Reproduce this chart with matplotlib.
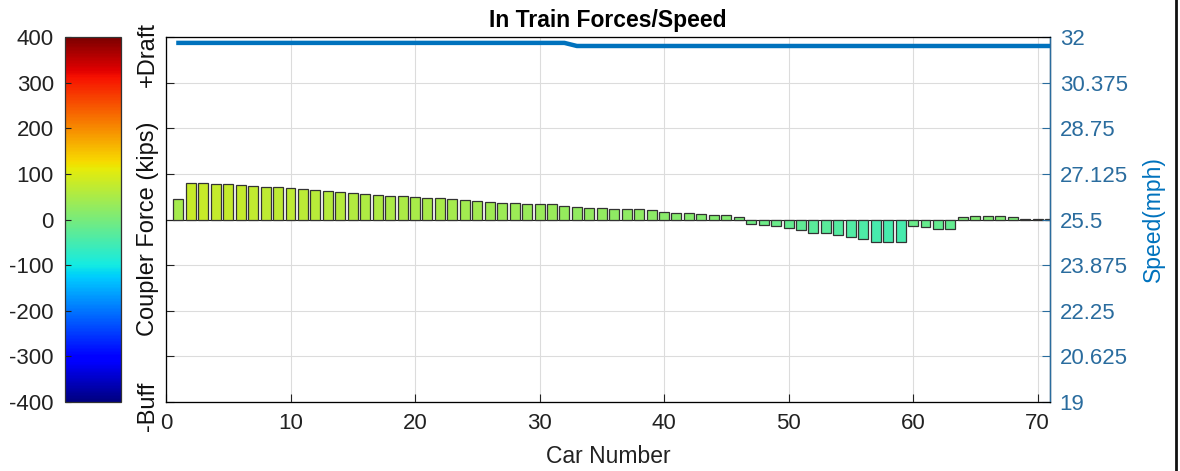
import numpy as np
import matplotlib
matplotlib.use("Agg")
import matplotlib.pyplot as plt
from matplotlib.colors import Normalize, ListedColormap
from matplotlib.lines import Line2D
import matplotlib.cm as cm

# Coupler force per car (kips), positive = draft, negative = buff
car_number = list(range(1, 72))
coupler_force = [
    45, 80, 80, 78, 78, 76, 74, 71, 71, 69,
    67, 64, 62, 60, 58, 56, 54, 51, 51, 49,
    47, 47, 45, 43, 41, 39, 37, 37, 34, 33,
    33, 30, 28, 26, 26, 24, 22, 22, 20, 17,
    15, 15, 12, 10, 10, 5, -9, -12, -15, -19,
    -22, -29, -30, -35, -39, -42, -49, -49, -49, -15,
    -17, -20, -20, 5, 8, 8, 8, 5, 2, 1,
    0.5,
]
# Train speed along the consist (mph)
speed = [31.79] * 32 + [31.68] * 39

force_ticks = [400, 300, 200, 100, 0, -100, -200, -300, -400]
speed_ticks = [19, 20.625, 22.25, 23.875, 25.5, 27.125, 28.75, 30.375, 32]
speed_labels = ["19", "20.625", "22.25", "23.875", "25.5", "27.125",
                "28.75", "30.375", "32"]
car_ticks = [0, 10, 20, 30, 40, 50, 60, 70]

speed_blue = "#0072bd"
label_blue = "#2a6c9e"
TICK_FS = 16

plt.rcParams["font.family"] = ["Liberation Sans", "DejaVu Sans"]
plt.rcParams["axes.unicode_minus"] = False

fig = plt.figure(figsize=(11.8, 4.71), dpi=100)
W, H = 1180, 471


def box(x0, y0, x1, y1):
    return [x0 / W, 1 - y1 / H, (x1 - x0) / W, (y1 - y0) / H]


ax = fig.add_axes(box(166, 37, 1050, 402))
cax = fig.add_axes(box(65, 37, 121, 402))

# Jet colour scale, slightly muted in the green channel
jet = plt.get_cmap("jet")(np.linspace(0, 1, 256))
jet[:, 1] *= 0.92
jet[:, 0] *= 0.97
cmap = ListedColormap(jet)
norm = Normalize(vmin=-400, vmax=400)
colors = cmap(norm(np.array(coupler_force)))

ax.bar(car_number, coupler_force, width=0.8, color=colors,
       edgecolor="#333333", linewidth=0.9, zorder=3)
ax.axhline(0, color="#222222", linewidth=0.8, zorder=2)

ax.set_xlim(0, 71)
ax.set_ylim(-400, 400)
ax.set_xticks(car_ticks)
ax.set_yticks(force_ticks)
ax.set_yticklabels([])
ax.grid(True, color="#dcdcdc", linewidth=0.8, zorder=0)
ax.set_axisbelow(True)
ax.tick_params(axis="both", direction="in", length=6, labelsize=TICK_FS,
               colors="#222222", top=False)
ax.tick_params(axis="x", pad=8)
ax.tick_params(axis="y", left=True, right=False)
for s in ax.spines.values():
    s.set_color("#333333")
    s.set_linewidth(0.9)
ax.set_xlabel("Car Number", fontsize=16.5, color="#222222", labelpad=8)
ax.set_title("In Train Forces/Speed", fontsize=16.5, fontweight="bold",
             pad=7)

# Side annotations for force direction
lx = -0.020
ax.text(lx, 1.04, "+Draft", transform=ax.transAxes, rotation=90,
        ha="center", va="top", fontsize=17, color="#111111")
ax.text(lx, 0.475, "Coupler Force (kips)", transform=ax.transAxes,
        rotation=90, ha="center", va="center", fontsize=17, color="#111111")
ax.text(lx, -0.08, "-Buff", transform=ax.transAxes, rotation=90,
        ha="center", va="bottom", fontsize=17, color="#111111")

# Speed on the right axis
ax2 = ax.twinx()
ax2.plot(car_number, speed, color=speed_blue, linewidth=3.2, zorder=5)
ax2.set_ylim(19, 32)
ax2.set_yticks(speed_ticks)
ax2.set_yticklabels(speed_labels)
ax2.tick_params(axis="y", direction="in", length=6, labelsize=TICK_FS,
                colors=label_blue, pad=7)
ax2.spines["right"].set_color(label_blue)
ax2.spines["right"].set_linewidth(1.0)
ax2.set_ylabel("Speed(mph)", fontsize=16.5, color=speed_blue, labelpad=10)
ax2.set_xlim(0, 71)

# Colour scale
cb = fig.colorbar(cm.ScalarMappable(norm=norm, cmap=cmap), cax=cax)
cb.set_ticks(force_ticks)
cax.yaxis.set_ticks_position("left")
cax.yaxis.set_label_position("left")
cax.tick_params(labelsize=TICK_FS, colors="#222222", direction="in",
                length=4, width=0.8, pad=8)
cb.outline.set_edgecolor("#333333")
cb.outline.set_linewidth(0.9)

fig.add_artist(Line2D([1176 / W, 1176 / W], [0, 1], color="#111111",
                      linewidth=2, transform=fig.transFigure))

fig.savefig("out.png", dpi=100, facecolor="white")
